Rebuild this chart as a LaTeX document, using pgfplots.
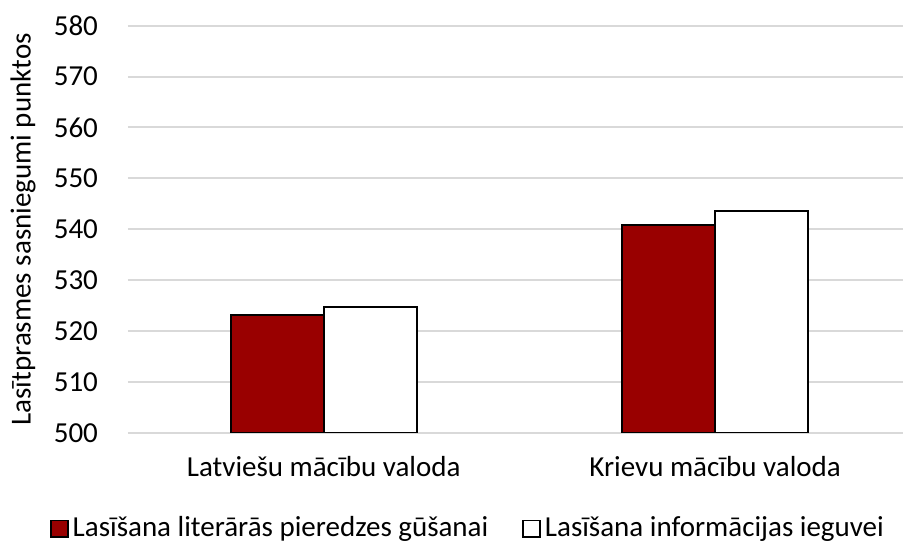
\documentclass[border=0pt]{standalone}
\usepackage{fontspec}
\setmainfont{Carlito}
\usepackage{pgfplots}
\pgfplotsset{compat=1.18}
\definecolor{barred}{RGB}{153,0,0}
\definecolor{gridgray}{RGB}{217,217,217}

\begin{document}
\fontsize{14.5}{17}\selectfont
\begin{tikzpicture}
\begin{axis}[
  scale only axis,
  width=387.5pt, height=203.6pt,
  xmin=-0.5, xmax=1.48,
  ymin=500, ymax=580,
  ytick={500,510,...,580},
  xtick={0,1},
  xticklabels={Latviešu mācību valoda, Krievu mācību valoda},
  /pgf/number format/assume math mode=true,
  ticklabel style={font=\fontsize{14.5}{17}\selectfont},
  yticklabel style={xshift=-10pt},
  xticklabel style={yshift=-6.5pt},
  ymajorgrids,
  grid style={gridgray, line width=1pt},
  axis line style={draw=none},
  major tick length=0pt,
  ylabel={Lasītprasmes sasniegumi punktos},
  ylabel style={font=\fontsize{14.5}{17}\selectfont, at={(rel axis cs:-0.1355,0.5)}, anchor=center},
  ybar,
  bar width=0.238,
  legend columns=2,
  legend style={at={(0.44,-0.185)}, anchor=north, draw=none,
    font=\fontsize{14.5}{17}\selectfont,
    /tikz/every even column/.append style={column sep=15pt}},
  legend image code/.code={\draw[#1, line width=0.9pt] (-1pt,-4.2pt) rectangle (7.4pt,4.2pt);},
]
\addplot[fill=barred, draw=black, line width=1pt, bar shift=-0.119]
  coordinates {(0,523.1) (1,540.9)};
\addplot[fill=white, draw=black, line width=1pt, bar shift=0.119]
  coordinates {(0,524.8) (1,543.6)};
\legend{Lasīšana literārās pieredzes gūšanai, Lasīšana informācijas ieguvei}
\end{axis}
\pgfresetboundingbox
\path ([xshift=-64pt,yshift=-54.5pt]current axis.south west) rectangle ([yshift=12.85pt]current axis.north east);
\end{tikzpicture}
\end{document}
